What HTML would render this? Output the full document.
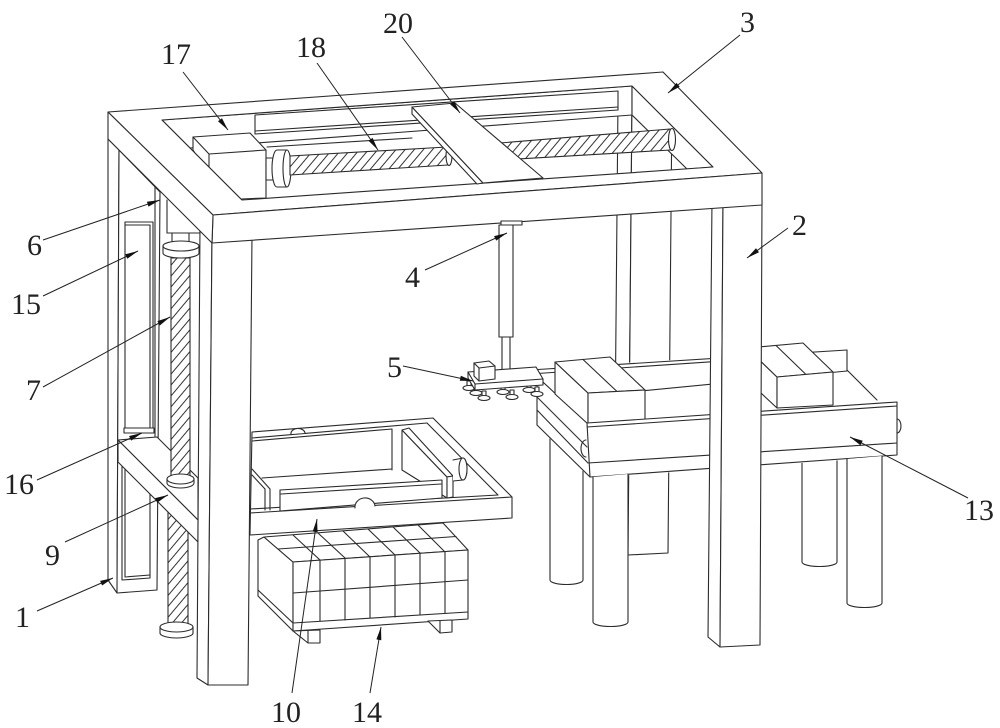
<!DOCTYPE html>
<html><head><meta charset="utf-8"><style>
html,body{margin:0;padding:0;background:#fff;}
svg{display:block;}
text{font-family:"Liberation Serif",serif;font-size:30px;fill:#222;}
</style></head><body>
<svg width="1000" height="728" viewBox="0 0 1000 728" xmlns="http://www.w3.org/2000/svg">
<defs>
<pattern id="h" patternUnits="userSpaceOnUse" width="7" height="7" patternTransform="rotate(40)"><rect width="7" height="7" fill="#fff"/><line x1="0.5" y1="0" x2="0.5" y2="7" stroke="#333" stroke-width="1"/></pattern>
</defs>
<rect width="1000" height="728" fill="#fff"/>
<g stroke="#2b2b2b" stroke-width="1.1" fill="none" stroke-linejoin="round" stroke-linecap="round">

<!-- back-right frame leg -->
<polygon points="618,100 632,100 628,545 614,545" fill="#fff"/>
<polygon points="632,100 672,100 668,553 628,555" fill="#fff"/>

<!-- conveyor back legs -->
<path d="M550,430 L550,580 A16.5,4.5 0 0 0 583,580 L583,430" fill="#fff"/>
<path d="M802,445 L802,562 A17.5,4.5 0 0 0 837,562 L837,445" fill="#fff"/>

<!-- conveyor body -->
<polygon points="530,369 847,349 898,401 898,456 590,478 537,426 537,373" fill="#fff" stroke="none"/>
<line x1="530" y1="370" x2="847" y2="350"/>
<line x1="530" y1="374" x2="813" y2="355"/>
<line x1="847" y1="350" x2="847" y2="370"/>
<line x1="600" y1="395" x2="847" y2="371"/>
<line x1="847" y1="370" x2="877" y2="400"/>
<line x1="530" y1="370" x2="587" y2="423"/>
<line x1="530" y1="370" x2="537" y2="373"/>
<line x1="537" y1="373" x2="537" y2="425"/>
<line x1="537" y1="397" x2="587" y2="447"/>
<line x1="537" y1="410" x2="588" y2="463"/>
<line x1="537" y1="425" x2="590" y2="477"/>
<path d="M586,440 A5,8.5 0 0 0 586,457"/>

<!-- box A -->
<polygon points="555,362 588,393 588,424 555,394" fill="#fff"/>
<polygon points="555,362 610,357 645,390 588,393" fill="#fff"/>
<line x1="583" y1="359.5" x2="617" y2="391.5"/>
<polygon points="588,393 645,390 645,421 588,424" fill="#fff"/>
<!-- box B -->
<polygon points="747,348 777,377 777,408 747,380" fill="#fff"/>
<polygon points="747,348 803,343 833,372 777,377" fill="#fff"/>
<line x1="776" y1="345.5" x2="806" y2="374.5"/>
<polygon points="777,377 833,372 833,405 777,408" fill="#fff"/>

<!-- front panel -->
<polygon points="587,423 897,402 897,455 590,477" fill="#fff"/>
<line x1="587" y1="427" x2="897" y2="406"/>
<line x1="588" y1="463" x2="897" y2="443"/>
<path d="M897,419 A4,7 0 0 1 897,433"/>

<!-- conveyor front legs -->
<path d="M593,477 L593,622 A17.5,4.5 0 0 0 628,622 L628,474" fill="#fff"/>
<path d="M847,459 L847,603 A17.5,4.5 0 0 0 882,603 L882,456" fill="#fff"/>

<!-- front-right frame leg -->
<polygon points="712,200 723,200 720,647 708,637" fill="#fff"/>
<polygon points="723,200 762,200 760,645 720,647" fill="#fff"/>

<!-- box 14 -->
<polygon points="258,540 264,537 293,562 293,631 258,596" fill="#fff"/>
<polygon points="264,537 443,523 468,550 293,562" fill="#fff"/>
<polygon points="293,562 468,550 468,619 293,631" fill="#fff"/>
<line x1="258" y1="590" x2="293" y2="623"/>
<line x1="293" y1="623" x2="468" y2="612"/>
<line x1="293" y1="593" x2="468" y2="580"/>
<line x1="320" y1="560" x2="320" y2="621"/>
<line x1="345" y1="558" x2="345" y2="620"/>
<line x1="370" y1="557" x2="370" y2="618"/>
<line x1="395" y1="555" x2="395" y2="617"/>
<line x1="420" y1="553" x2="420" y2="615"/>
<line x1="445" y1="552" x2="445" y2="613"/>
<line x1="320" y1="560" x2="293" y2="535"/>
<line x1="345" y1="558" x2="318" y2="533"/>
<line x1="370" y1="557" x2="343" y2="531"/>
<line x1="395" y1="555" x2="368" y2="529"/>
<line x1="420" y1="553" x2="393" y2="527"/>
<line x1="445" y1="552" x2="418" y2="525"/>
<line x1="278" y1="549" x2="456" y2="536.5"/>
<polygon points="293,631 308,643 320,643 320,630" fill="#fff"/>
<line x1="308" y1="631" x2="308" y2="643"/>
<polygon points="428,621 440,633 452,632 452,620" fill="#fff"/>
<line x1="440" y1="621" x2="440" y2="633"/>

<!-- tray 10 -->
<polygon points="252,432 433,418 512,497 512,518 250,535" fill="#fff"/>
<line x1="252" y1="438" x2="427" y2="423"/>
<line x1="427" y1="423" x2="498" y2="495"/>
<line x1="250" y1="513" x2="512" y2="497"/>
<line x1="250" y1="509" x2="498" y2="495"/>
<path d="M291,434 A7,5 0 0 1 305,433" fill="#fff"/>
<polyline points="252,441 392,429 392,470"/>
<line x1="262" y1="478" x2="392" y2="469"/>
<line x1="252" y1="469" x2="270" y2="489"/>
<line x1="252" y1="475" x2="265" y2="489"/>
<line x1="265" y1="489" x2="265" y2="510"/>
<line x1="270" y1="489" x2="270" y2="510"/>
<polygon points="402,430 447,477 447,498 402,470" fill="#fff"/>
<polygon points="402,430 409,428 453,476 447,477" fill="#fff"/>
<polygon points="447,477 453,476 453,497 447,498" fill="#fff"/>
<path d="M453,460 L463,458 A4,11 0 0 1 463,480 L453,481" fill="#fff"/>
<ellipse cx="463" cy="469" rx="4" ry="11" fill="#fff"/>
<polygon points="280,490 442,480 442,498 280,511" fill="#fff"/>
<line x1="281" y1="494" x2="441" y2="484"/>
<path d="M355,508 A10,9 0 0 1 375,506" fill="#fff"/>

<!-- column 1 / slider 15 -->
<polygon points="108,139 119,150 117,593 108,580" fill="#fff"/>
<polygon points="119,150 160,192 157,590 117,593" fill="#fff"/>
<line x1="155" y1="187" x2="155" y2="437"/>
<rect x="125" y="222" width="28" height="208" fill="#fff"/>
<line x1="150" y1="225" x2="150" y2="428"/>
<line x1="125" y1="225" x2="150" y2="225"/>
<rect x="124" y="428" width="30" height="5" fill="#fff"/>
<polyline points="122,462 122,580 150,578 150,462"/>
<line x1="125" y1="462" x2="125" y2="577"/>
<line x1="125" y1="577" x2="150" y2="575"/>
<polyline points="167,200 167,233 200,233"/>

<!-- screw 7 -->
<rect x="168" y="500" width="20" height="128" fill="url(#h)"/>
<path d="M160,627 L160,633 A16.5,5 0 0 0 193,633 L193,627" fill="#fff"/>
<ellipse cx="176.5" cy="627" rx="16.5" ry="5" fill="#fff"/>
<polygon points="118,440 157,437 198,478 198,520" fill="#fff"/>
<polygon points="118,440 198,520 198,542 118,462" fill="#fff"/>
<rect x="172" y="233" width="17" height="10" fill="#fff"/>
<path d="M163,246 L163,253 A18,5 0 0 0 199,253 L199,246" fill="#fff"/>
<ellipse cx="181" cy="246" rx="18" ry="5" fill="#fff"/>
<rect x="171" y="258" width="19" height="220" fill="url(#h)"/>
<path d="M167,479 L167,483 A13.5,5 0 0 0 194,483 L194,479" fill="#fff"/>
<ellipse cx="180.5" cy="479" rx="13.5" ry="5" fill="#fff"/>

<!-- front-left frame leg -->
<polygon points="200,225 212,235 208,685 197,678" fill="#fff"/>
<polygon points="212,235 252,235 248,685 208,685" fill="#fff"/>

<!-- top frame -->
<polygon points="162,120 632,86 632,115 190,148" fill="#fff"/>
<polygon points="632,86 713,167 687,169 632,115" fill="#fff"/>
<path fill-rule="evenodd" fill="#fff" d="M108,112 L663,72 L762,173 L213,215 Z M162,120 L632,86 L713,167 L242,200 Z"/>
<polygon points="213,215 762,173 762,205 212,243" fill="#fff"/>
<polygon points="108,112 213,215 212,243 108,139" fill="#fff"/>
<!-- slot -->
<polyline points="255,134 255,115 618,91 618,110"/>
<line x1="255" y1="131" x2="618" y2="107"/>
<line x1="255" y1="134" x2="618" y2="110"/>
<line x1="267" y1="147" x2="412" y2="138"/>

<!-- motor 17 -->
<polygon points="193,137 250,133 266,150 266,198 241,199 195,153 193,150" fill="#fff"/>
<polyline points="193,137 209,154 266,150"/>
<line x1="209" y1="154" x2="209" y2="167"/>
<rect x="266" y="158" width="8" height="22" fill="#fff"/>
<path d="M277,150 L287,150 L287,187 L277,187 A5,18.5 0 0 1 277,150 Z" fill="#fff"/>
<ellipse cx="287" cy="168.5" rx="4" ry="18.5" fill="#fff"/>

<!-- screw 18 -->
<polygon points="290,156 447,147 448,165 290,175" fill="url(#h)"/>
<ellipse cx="449" cy="156" rx="3" ry="9.5" fill="#fff"/>
<polygon points="500,143 670,129 671,150 500,160" fill="url(#h)"/>
<ellipse cx="672" cy="139.5" rx="3.5" ry="11" fill="#fff"/>

<!-- slider 20 -->
<polygon points="412,107 412,114 477,184 483,183" fill="#fff"/>
<polygon points="412,107 455,103 543,178 483,183" fill="#fff"/>

<!-- cylinder 4 -->
<rect x="501" y="221" width="21" height="4" fill="#fff"/>
<rect x="499" y="225" width="14" height="112" fill="#fff"/>
<rect x="502" y="337" width="8" height="40" fill="#fff"/>

<!-- suction plate 5 -->
<rect x="527" y="383" width="4" height="6" fill="#fff"/><ellipse cx="529" cy="390" rx="6" ry="2.5" fill="#fff"/>
<rect x="467" y="381" width="4" height="6" fill="#fff"/><ellipse cx="469" cy="388" rx="6" ry="2.5" fill="#fff"/>
<rect x="501" y="385" width="4" height="6" fill="#fff"/><ellipse cx="503" cy="392" rx="6" ry="2.5" fill="#fff"/>
<rect x="474" y="386" width="4" height="6" fill="#fff"/><ellipse cx="476" cy="393" rx="6" ry="2.5" fill="#fff"/>
<rect x="535" y="387" width="4" height="6" fill="#fff"/><ellipse cx="537" cy="394" rx="6" ry="2.5" fill="#fff"/>
<rect x="510" y="390" width="4" height="6" fill="#fff"/><ellipse cx="512" cy="397" rx="6" ry="2.5" fill="#fff"/>
<rect x="482" y="391" width="4" height="6" fill="#fff"/><ellipse cx="484" cy="398" rx="6" ry="2.5" fill="#fff"/>
<polygon points="468,372 536,367 543,379 543,385 475,390 468,378" fill="#fff"/>
<polyline points="468,372 475,384 543,379"/>
<line x1="475" y1="384" x2="475" y2="390"/>
<polygon points="474,363 489,361 495,366 495,379 479,381 474,376" fill="#fff"/>
<polyline points="474,363 479,368 495,366"/>
<line x1="479" y1="368" x2="479" y2="381"/>
</g>

<!-- leaders -->
<g stroke="#222" stroke-width="1" fill="none">
<line x1="183" y1="72" x2="228" y2="130"/>
<line x1="317" y1="63" x2="378" y2="150"/>
<line x1="402" y1="37" x2="460" y2="113"/>
<line x1="740" y1="35" x2="668" y2="93"/>
<line x1="43" y1="240" x2="160" y2="200"/>
<line x1="43" y1="296" x2="138" y2="251"/>
<line x1="43" y1="387" x2="170" y2="317"/>
<line x1="37" y1="480" x2="142" y2="433"/>
<line x1="65" y1="542" x2="168" y2="495"/>
<line x1="37" y1="611" x2="113" y2="578"/>
<line x1="788" y1="228" x2="747" y2="258"/>
<line x1="425" y1="270" x2="507" y2="233"/>
<line x1="403" y1="366" x2="473" y2="381"/>
<line x1="968" y1="498" x2="850" y2="437"/>
<line x1="292" y1="693" x2="317" y2="519"/>
<line x1="370" y1="693" x2="381" y2="627"/>
</g>
<g fill="#111" stroke="none">
<polygon points="228,130 218.0,121.3 222.0,118.2"/>
<polygon points="378,150 368.5,140.8 372.6,137.9"/>
<polygon points="460,113 450.1,104.2 454.1,101.1"/>
<polygon points="668,93 676.5,82.9 679.7,86.8"/>
<polygon points="160,200 148.5,206.6 146.9,201.8"/>
<polygon points="138,251 127.3,258.8 125.2,254.3"/>
<polygon points="170,317 159.8,325.5 157.4,321.1"/>
<polygon points="142,433 131.2,440.6 129.1,436.0"/>
<polygon points="168,495 157.2,502.7 155.1,498.1"/>
<polygon points="113,578 102.1,585.5 100.1,580.9"/>
<polygon points="747,258 756.0,248.3 759.0,252.3"/>
<polygon points="507,233 496.2,240.6 494.1,236.1"/>
<polygon points="473,381 459.8,380.7 460.8,375.8"/>
<polygon points="850,437 862.7,440.7 860.4,445.2"/>
<polygon points="317,519 317.6,532.2 312.7,531.5"/>
<polygon points="381,627 381.3,640.2 376.4,639.4"/>
</g>

<text x="161" y="64">17</text>
<text x="296" y="57">18</text>
<text x="383" y="33">20</text>
<text x="740" y="32">3</text>
<text x="27" y="255">6</text>
<text x="11" y="314">15</text>
<text x="26" y="400">7</text>
<text x="4" y="494">16</text>
<text x="45" y="565">9</text>
<text x="15" y="627">1</text>
<text x="792" y="235">2</text>
<text x="405" y="287">4</text>
<text x="387" y="377">5</text>
<text x="964" y="520">13</text>
<text x="271" y="722">10</text>
<text x="352" y="722">14</text>
</svg>
</body></html>
